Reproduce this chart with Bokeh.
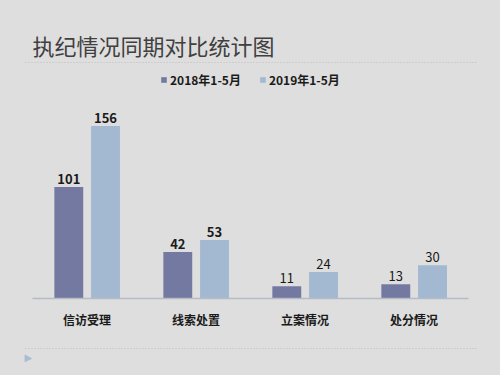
from bokeh.plotting import figure
from bokeh.models import ColumnDataSource, FactorRange, Label, Legend, LegendItem
from bokeh.transform import dodge
from bokeh.core.properties import value
from bokeh.embed import file_html
from bokeh.resources import INLINE

# ---- data ----
categories = ["信访受理", "线索处置", "立案情况", "处分情况"]
series_names = ["2018年1-5月", "2019年1-5月"]
values_2018 = [101, 42, 11, 13]
values_2019 = [156, 53, 24, 30]
title_text = "执纪情况同期对比统计图"

C2018 = "#7479a1"
C2019 = "#a2b9d1"
BG = "#dedede"
FONT = "Noto Sans CJK SC"

W, H = 500, 375
PX_PER_UNIT = 1.105
BASE_Y = 298  # pixel row of the baseline from the top
BAND = 109.0  # pixel width of one category band

p = figure(width=W, height=H, output_backend="svg", toolbar_location=None,
           x_range=FactorRange(factors=categories,
                               range_padding=((W / BAND) - 4) / 2,
                               range_padding_units="absolute"),
           y_range=(-(H - BASE_Y) / PX_PER_UNIT, BASE_Y / PX_PER_UNIT),
           min_border=0)
p.background_fill_color = BG
p.border_fill_color = BG
p.outline_line_color = None
p.grid.visible = False
p.yaxis.visible = False

src = ColumnDataSource(dict(
    cat=categories, v18=values_2018, v19=values_2019,
    t18=[str(v) for v in values_2018], t19=[str(v) for v in values_2019],
    fs=["bold", "bold", "normal", "normal"],
))

r18 = p.vbar(x=dodge("cat", -0.167, range=p.x_range), top="v18", width=0.265,
             source=src, fill_color=C2018, line_color=None)
r19 = p.vbar(x=dodge("cat", 0.170, range=p.x_range), top="v19", width=0.265,
             source=src, fill_color=C2019, line_color=None)

for col, off, top in (("t18", -0.167, "v18"), ("t19", 0.170, "v19")):
    p.text(x=dodge("cat", off, range=p.x_range), y=top, text=col, source=src,
           text_align="center", text_baseline="bottom", y_offset=-3,
           text_font=value(FONT), text_font_size="13px",
           text_font_style="fs", text_color="#1a1a1a")

# baseline across the category band
edge = ColumnDataSource(dict(a=[categories[0]], b=[categories[-1]], y=[0]))
p.segment(x0=dodge("a", -0.5, range=p.x_range), x1=dodge("b", 0.5, range=p.x_range),
          y0="y", y1="y", source=edge, line_color="#b4bcc6", line_width=1.5)

# dotted separators (title rule and footer rule)
rules = ColumnDataSource(dict(a=[categories[0]] * 2, b=[categories[-1]] * 2,
                              y=[(BASE_Y - 62) / PX_PER_UNIT, -(348 - BASE_Y) / PX_PER_UNIT]))
p.segment(x0=dodge("a", -0.564, range=p.x_range), x1=dodge("b", 0.583, range=p.x_range),
          y0="y", y1="y", source=rules, line_color="#bdbdbd", line_dash="1 2",
          line_width=1)

ax = p.xaxis[0]
ax.fixed_location = 0
ax.axis_line_color = None
ax.major_tick_line_color = None
ax.minor_tick_line_color = None
ax.major_label_standoff = 6
ax.major_label_text_font = FONT
ax.major_label_text_font_style = "bold"
ax.major_label_text_font_size = "12px"
ax.major_label_text_color = "#1a1a1a"

# title (screen units from the bottom-left of the frame)
p.add_layout(Label(x=32, y=H - 47 + 3, x_units="screen", y_units="screen", text=title_text,
                   text_font=FONT, text_font_size="22px", text_color="#404040",
                   text_baseline="middle"))

# little triangle bottom-left
p.add_layout(Label(x=24, y=H - 357, x_units="screen", y_units="screen", text="▶",
                   text_font="DejaVu Sans", text_font_size="10px", text_color="#a8bdd3",
                   text_baseline="middle"))

legend = Legend(items=[LegendItem(label=series_names[0], renderers=[r18]),
                       LegendItem(label=series_names[1], renderers=[r19])],
                orientation="horizontal", location=(160, H - 88))
legend.background_fill_alpha = 0
legend.border_line_color = None
legend.padding = 0
legend.margin = 0
legend.spacing = 18
legend.glyph_width = 7
legend.glyph_height = 7
legend.label_standoff = 3
legend.label_height = 14
legend.label_text_font = FONT
legend.label_text_font_style = "bold"
legend.label_text_font_size = "12px"
legend.label_text_color = "#1a1a1a"
p.add_layout(legend, "center")

html = file_html(p, INLINE)
html = html.replace("<head>", "<head><style>html,body{background:#dedede;}</style>", 1)
open("out.html", "w").write(html)
